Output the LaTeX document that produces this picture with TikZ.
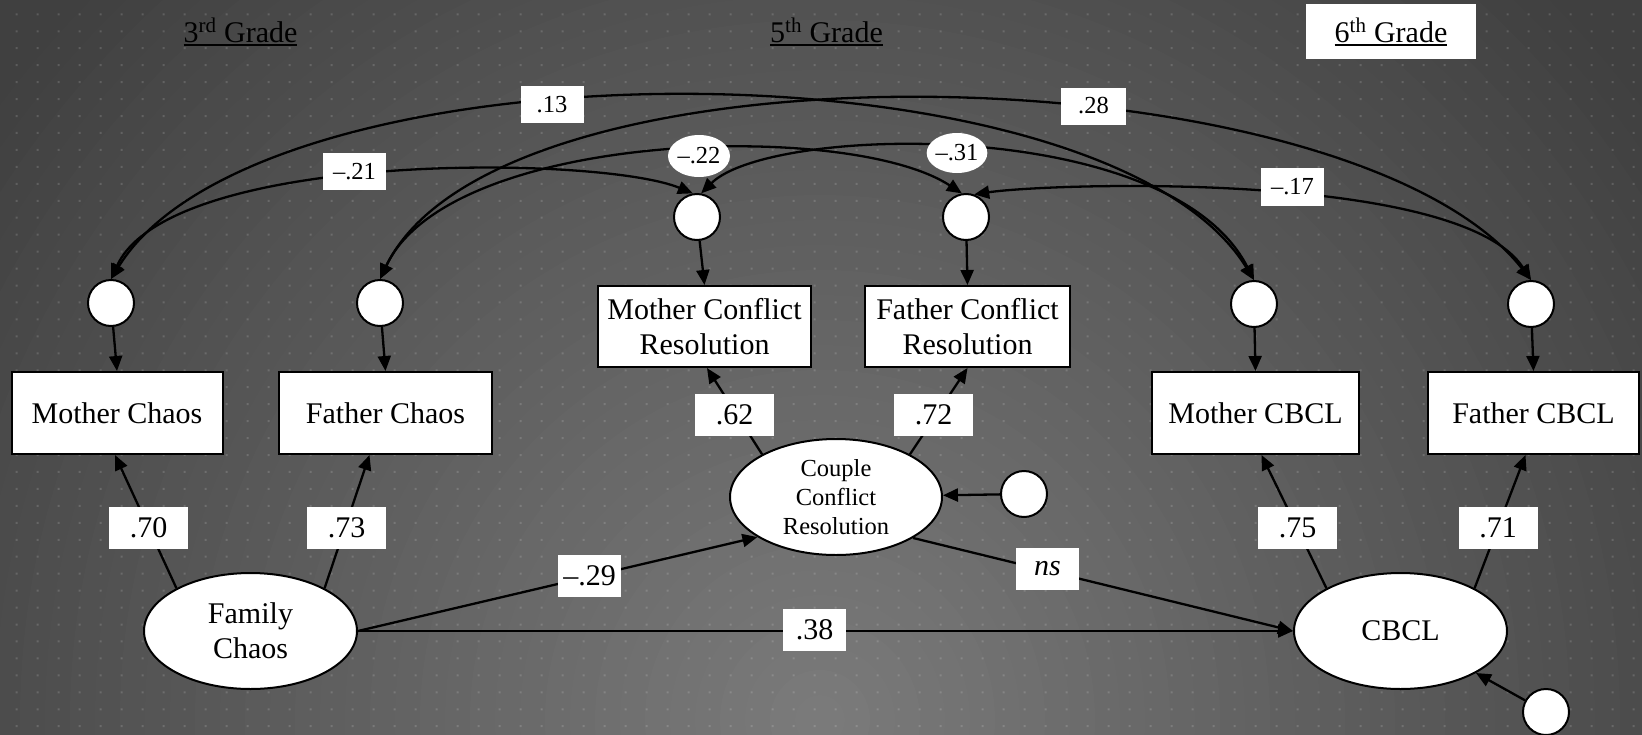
\documentclass[tikz,border=0pt]{standalone}
\usepackage{fontspec}
\setmainfont{Liberation Serif}
\usetikzlibrary{arrows.meta,shapes.geometric}
\definecolor{bgout}{HTML}{404040}
\newcommand\ulgrade[1]{\setbox0\hbox{#1}\rlap{\rule[-3.6pt]{\wd0}{2pt}}\box0}
\newcommand\mainsize{\fontsize{30}{35}\selectfont}
\newcommand\smallsize{\fontsize{24.5}{29}\selectfont}
\begin{document}
\begin{tikzpicture}[x=1pt,y=-1pt,
  line width=2.3pt,
  >={Triangle[length=15pt,width=13pt]},
  err/.style={circle, draw, fill=white, line width=2pt, minimum size=46pt, inner sep=0pt},
  ind/.style={rectangle, draw, fill=white, line width=2pt, font=\mainsize, align=center, inner sep=0pt, minimum height=82pt},
  lat/.style={ellipse, draw, fill=white, line width=2pt, align=center, inner sep=0pt, minimum width=213pt, minimum height=116pt},
  lab/.style={fill=white, inner sep=0pt, font=\mainsize, minimum height=42pt},
  cov/.style={fill=white, inner sep=0pt, font=\smallsize, minimum width=63pt, minimum height=37pt},
  ttl/.style={anchor=base, font=\mainsize, inner sep=0pt}]
\useasboundingbox (0,0) rectangle (1642,734);
% background
\begin{scope}
\clip (0,0) rectangle (1642,734);
\fill[bgout] (0,0) rectangle (1642,734);
\foreach \k in {0,...,44} {
  \pgfmathsetmacro\rr{1100-25*\k}
  \pgfmathtruncatemacro\vv{max(64,124-\rr/17.5)}
  \definecolor{bgc}{RGB}{\vv,\vv,\vv}
  \fill[bgc] (820,720) circle[radius=\rr];
}
\fill[white, opacity=0.15] \foreach \i in {0,...,77} {\foreach \j in {0,...,42} {(16.7+21*\i-1, 14.3+16.95*\j-1) rectangle ++(2,2)}};
\end{scope}
% titles
\node[fill=white, minimum width=170pt, minimum height=55pt, inner sep=0pt] (g6box) at (1391,31.5) {};
\node[ttl] (g3) at (240.5,42) {\ulgrade{3\textsuperscript{rd} Grade}};
\node[ttl] (g5) at (826.5,42) {\ulgrade{5\textsuperscript{th} Grade}};
\node[ttl] (g6) at (1391,42) {\ulgrade{6\textsuperscript{th} Grade}};
% error terms
\node[err] (e1) at (697,217) {};
\node[err] (e2) at (966,217) {};
\node[err] (e3) at (111,303) {};
\node[err] (e4) at (380,303) {};
\node[err] (e5) at (1254,304) {};
\node[err] (e6) at (1531,304) {};
\node[err] (e7) at (1024,494) {};
\node[err] (e8) at (1546,712) {};
% indicators
\node[ind, minimum width=211pt] (mc) at (117,413) {Mother Chaos};
\node[ind, minimum width=213pt] (fac) at (385.5,413) {Father Chaos};
\node[ind, minimum width=207pt] (mcb) at (1255.5,413) {Mother CBCL};
\node[ind, minimum width=211pt] (fcb) at (1533.5,413) {Father CBCL};
\node[ind, minimum width=213pt, minimum height=81pt] (mcr) at (704.5,326.5) {Mother Conflict\\Resolution};
\node[ind, minimum width=205pt, minimum height=81pt] (fcr) at (967.5,326.5) {Father Conflict\\Resolution};
% latents
\node[lat, font=\mainsize] (fc) at (250.5,631) {Family\\Chaos};
\node[lat, font=\smallsize, minimum width=212pt] (ccr) at (836,497) {Couple\\Conflict\\Resolution};
\node[lat, font=\mainsize] (cb) at (1400.5,631) {CBCL};
% loadings and paths
\draw[->] (fc.150) -- ([xshift=-2pt]mc.south);
\draw[->] (fc.30) -- ([xshift=-16pt]fac.south);
\draw[->] (cb.150) -- ([xshift=6pt]mcb.south);
\draw[->] (cb.30) -- ([xshift=-8pt]fcb.south);
\draw[->] (ccr.150) -- ([xshift=2.5pt]mcr.south);
\draw[->] (ccr.30) -- (fcr.south);
\draw[->] (fc.east) -- (ccr.207);
\draw[->] (fc.east) -- (cb.west);
\draw[->] (ccr.-28) -- (cb.west);
\draw[->] (e7) -- (ccr);
\draw[->] (e8) -- (cb);
\draw[->] (e1) -- (mcr.north);
\draw[->] (e2) -- (fcr.north);
\draw[->] (e3) -- (mc.north);
\draw[->] (e4) -- (fac.north);
\draw[->] (e5) -- (mcb.north);
\draw[->] (e6) -- (fcb.north);
% covariances
\draw[<->] (e3.north) .. controls (261,36) and (1104,36) .. (e5.north);
\draw[<->] (e4.north) .. controls (500,30) and (1350,50) .. (e6.north);
\draw[<->] (e3.north) .. controls (170,150) and (600,155) .. (e1.100);
\draw[<->] (e4.north) .. controls (450,130) and (850,120) .. (e2.100);
\draw[<->] (e1.80) .. controls (770,125) and (1170,115) .. (e5.north);
\draw[<->] (e2.70) .. controls (1050,183) and (1460,170) .. (e6.north);
% labels
\node[lab, minimum width=79pt] (l70) at (148.5,528) {.70};
\node[lab, minimum width=79pt] (l73) at (346.5,528) {.73};
\node[lab, minimum width=79pt] (l75) at (1297.5,528) {.75};
\node[lab, minimum width=79pt] (l71) at (1498,528) {.71};
\node[lab, minimum width=79pt] (l62) at (734.5,415) {.62};
\node[lab, minimum width=79pt] (l72) at (933.5,415) {.72};
\node[lab, minimum width=63pt] (l29) at (589.5,576) {–.29};
\node[lab, minimum width=63pt] (l38) at (814.5,630) {.38};
\node[lab, minimum width=63pt] (lns) at (1047.5,568.5) {\textit{ns}};
\node[cov] (l21) at (354.5,171.5) {–.21};
\node[cov] (l13) at (552,104.5) {.13};
\node[cov, minimum width=65pt] (l28) at (1093.5,106) {.28};
\node[cov, minimum height=38pt] (l17) at (1292.5,187) {–.17};
\node[cov, ellipse, minimum width=62pt, minimum height=42pt] (l22) at (699,156) {–.22};
\node[cov, ellipse, minimum width=60pt, minimum height=40pt] (l31) at (957,153) {–.31};
\end{tikzpicture}
\end{document}
